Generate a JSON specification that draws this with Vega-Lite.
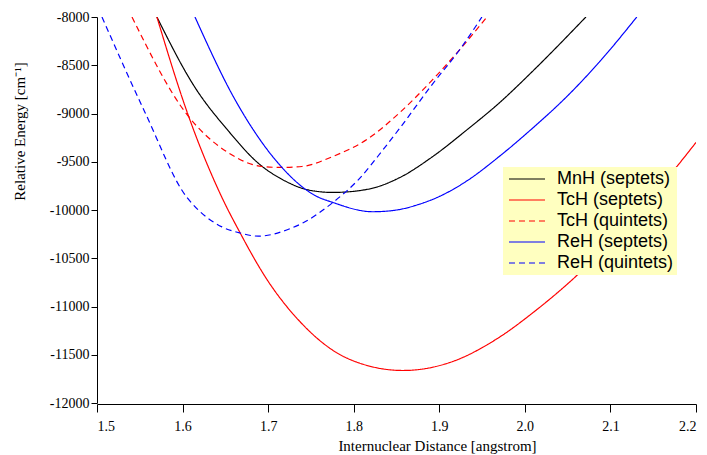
{
  "$schema": "https://vega.github.io/schema/vega-lite/v6.json",
  "width": 599,
  "height": 386,
  "autosize": "none",
  "padding": {"left": 97, "top": 17, "right": 11, "bottom": 52},
  "background": "white",
  "config": {
    "view": {"stroke": null},
    "font": "Liberation Serif",
    "legend": {
      "orient": "none",
      "legendX": 406,
      "legendY": 150,
      "fillColor": "#ffffc0",
      "padding": 3,
      "labelFont": "Liberation Sans",
      "labelFontSize": 18,
      "labelColor": "black",
      "labelLimit": 300,
      "symbolType": "M-1,0H5",
      "symbolSize": 144,
      "symbolStrokeWidth": 1.2,
      "labelOffset": 33,
      "rowPadding": 3,
      "title": null
    }
  },
  "data": {
    "values": [
      {"s": "MnH (septets)", "x": 1.570, "y": -8000},
      {"s": "MnH (septets)", "x": 1.6145, "y": -8730},
      {"s": "MnH (septets)", "x": 1.653, "y": -9175},
      {"s": "MnH (septets)", "x": 1.6885, "y": -9515},
      {"s": "MnH (septets)", "x": 1.72, "y": -9700},
      {"s": "MnH (septets)", "x": 1.7469, "y": -9792},
      {"s": "MnH (septets)", "x": 1.7757, "y": -9818},
      {"s": "MnH (septets)", "x": 1.8154, "y": -9787},
      {"s": "MnH (septets)", "x": 1.854, "y": -9663},
      {"s": "MnH (septets)", "x": 1.8925, "y": -9445},
      {"s": "MnH (septets)", "x": 1.9322, "y": -9170},
      {"s": "MnH (septets)", "x": 1.9708, "y": -8885},
      {"s": "MnH (septets)", "x": 2.0093, "y": -8560},
      {"s": "MnH (septets)", "x": 2.0713, "y": -8000},

      {"s": "TcH (septets)", "x": 1.570, "y": -8000},
      {"s": "TcH (septets)", "x": 1.6063, "y": -9010},
      {"s": "TcH (septets)", "x": 1.646, "y": -9870},
      {"s": "TcH (septets)", "x": 1.667, "y": -10233},
      {"s": "TcH (septets)", "x": 1.6986, "y": -10720},
      {"s": "TcH (septets)", "x": 1.737, "y": -11155},
      {"s": "TcH (septets)", "x": 1.7956, "y": -11549},
      {"s": "TcH (septets)", "x": 1.8575, "y": -11663},
      {"s": "TcH (septets)", "x": 1.9124, "y": -11580},
      {"s": "TcH (septets)", "x": 1.9708, "y": -11315},
      {"s": "TcH (septets)", "x": 2.0093, "y": -11065},
      {"s": "TcH (septets)", "x": 2.062, "y": -10668},
      {"s": "TcH (septets)", "x": 2.12, "y": -10140},
      {"s": "TcH (septets)", "x": 2.173, "y": -9600},
      {"s": "TcH (septets)", "x": 2.2, "y": -9300},

      {"s": "TcH (quintets)", "x": 1.5409, "y": -8000},
      {"s": "TcH (quintets)", "x": 1.6051, "y": -9010},
      {"s": "TcH (quintets)", "x": 1.653, "y": -9404},
      {"s": "TcH (quintets)", "x": 1.6928, "y": -9549},
      {"s": "TcH (quintets)", "x": 1.7161, "y": -9559},
      {"s": "TcH (quintets)", "x": 1.7395, "y": -9549},
      {"s": "TcH (quintets)", "x": 1.7757, "y": -9445},
      {"s": "TcH (quintets)", "x": 1.8154, "y": -9269},
      {"s": "TcH (quintets)", "x": 1.854, "y": -8989},
      {"s": "TcH (quintets)", "x": 1.8925, "y": -8647},
      {"s": "TcH (quintets)", "x": 1.924, "y": -8337},
      {"s": "TcH (quintets)", "x": 1.9556, "y": -8000},

      {"s": "ReH (septets)", "x": 1.6145, "y": -8000},
      {"s": "ReH (septets)", "x": 1.6612, "y": -8855},
      {"s": "ReH (septets)", "x": 1.7161, "y": -9559},
      {"s": "ReH (septets)", "x": 1.7407, "y": -9766},
      {"s": "ReH (septets)", "x": 1.7547, "y": -9849},
      {"s": "ReH (septets)", "x": 1.7757, "y": -9922},
      {"s": "ReH (septets)", "x": 1.8224, "y": -10018},
      {"s": "ReH (septets)", "x": 1.85, "y": -10000},
      {"s": "ReH (septets)", "x": 1.875, "y": -9945},
      {"s": "ReH (septets)", "x": 1.90, "y": -9860},
      {"s": "ReH (septets)", "x": 1.932, "y": -9700},
      {"s": "ReH (septets)", "x": 1.9708, "y": -9440},
      {"s": "ReH (septets)", "x": 2.0093, "y": -9150},
      {"s": "ReH (septets)", "x": 2.0491, "y": -8824},
      {"s": "ReH (septets)", "x": 2.0876, "y": -8461},
      {"s": "ReH (septets)", "x": 2.1308, "y": -8000},

      {"s": "ReH (quintets)", "x": 1.5058, "y": -8000},
      {"s": "ReH (quintets)", "x": 1.5561, "y": -8989},
      {"s": "ReH (quintets)", "x": 1.6051, "y": -9870},
      {"s": "ReH (quintets)", "x": 1.611, "y": -9932},
      {"s": "ReH (quintets)", "x": 1.646, "y": -10175},
      {"s": "ReH (quintets)", "x": 1.667, "y": -10238},
      {"s": "ReH (quintets)", "x": 1.6885, "y": -10271},
      {"s": "ReH (quintets)", "x": 1.7231, "y": -10202},
      {"s": "ReH (quintets)", "x": 1.741, "y": -10132},
      {"s": "ReH (quintets)", "x": 1.7757, "y": -9922},
      {"s": "ReH (quintets)", "x": 1.805, "y": -9690},
      {"s": "ReH (quintets)", "x": 1.8345, "y": -9373},
      {"s": "ReH (quintets)", "x": 1.854, "y": -9150},
      {"s": "ReH (quintets)", "x": 1.8925, "y": -8690},
      {"s": "ReH (quintets)", "x": 1.924, "y": -8337},
      {"s": "ReH (quintets)", "x": 1.9498, "y": -8000}
    ]
  },
  "mark": {"type": "line", "interpolate": "monotone", "strokeWidth": 1.2, "clip": true},
  "encoding": {
    "x": {
      "field": "x",
      "type": "quantitative",
      "scale": {"domain": [1.5, 2.2], "nice": false, "zero": false},
      "axis": {
        "title": "Internuclear Distance [angstrom]",
        "values": [1.5, 1.6, 1.7, 1.8, 1.9, 2.0, 2.1, 2.2],
        "format": ".1f",
        "grid": false,
        "offset": 1,
        "domainColor": "black",
        "tickColor": "black",
        "tickSize": 8,
        "labelColor": "black",
        "labelFont": "Liberation Serif",
        "labelFontSize": 14,
        "labelPadding": 7,
        "titleFont": "Liberation Serif",
        "titleFontSize": 15,
        "titleFontWeight": "normal",
        "titleColor": "black",
        "titleX": 340,
        "titlePadding": 5
      }
    },
    "y": {
      "field": "y",
      "type": "quantitative",
      "scale": {"domain": [-12000, -8000], "nice": false, "zero": false},
      "axis": {
        "title": "Relative Energy [cm⁻¹]",
        "values": [-12000, -11500, -11000, -10500, -10000, -9500, -9000, -8500, -8000],
        "labelExpr": "'' + datum.value",
        "grid": false,
        "domainColor": "black",
        "tickColor": "black",
        "tickSize": 6,
        "labelColor": "black",
        "labelFont": "Liberation Serif",
        "labelFontSize": 14,
        "labelPadding": 2,
        "titleFont": "Liberation Serif",
        "titleFontSize": 15,
        "titleFontWeight": "normal",
        "titleColor": "black",
        "titleX": -70,
        "titleY": 114
      }
    },
    "color": {
      "field": "s",
      "type": "nominal",
      "scale": {
        "domain": ["MnH (septets)", "TcH (septets)", "TcH (quintets)", "ReH (septets)", "ReH (quintets)"],
        "range": ["#000000", "#ff0000", "#ff0000", "#0000ff", "#0000ff"]
      },
      "legend": {"title": null}
    },
    "strokeDash": {
      "field": "s",
      "type": "nominal",
      "scale": {
        "domain": ["MnH (septets)", "TcH (septets)", "TcH (quintets)", "ReH (septets)", "ReH (quintets)"],
        "range": [[1, 0], [1, 0], [6, 4], [1, 0], [6, 4]]
      },
      "legend": {"title": null}
    }
  }
}
